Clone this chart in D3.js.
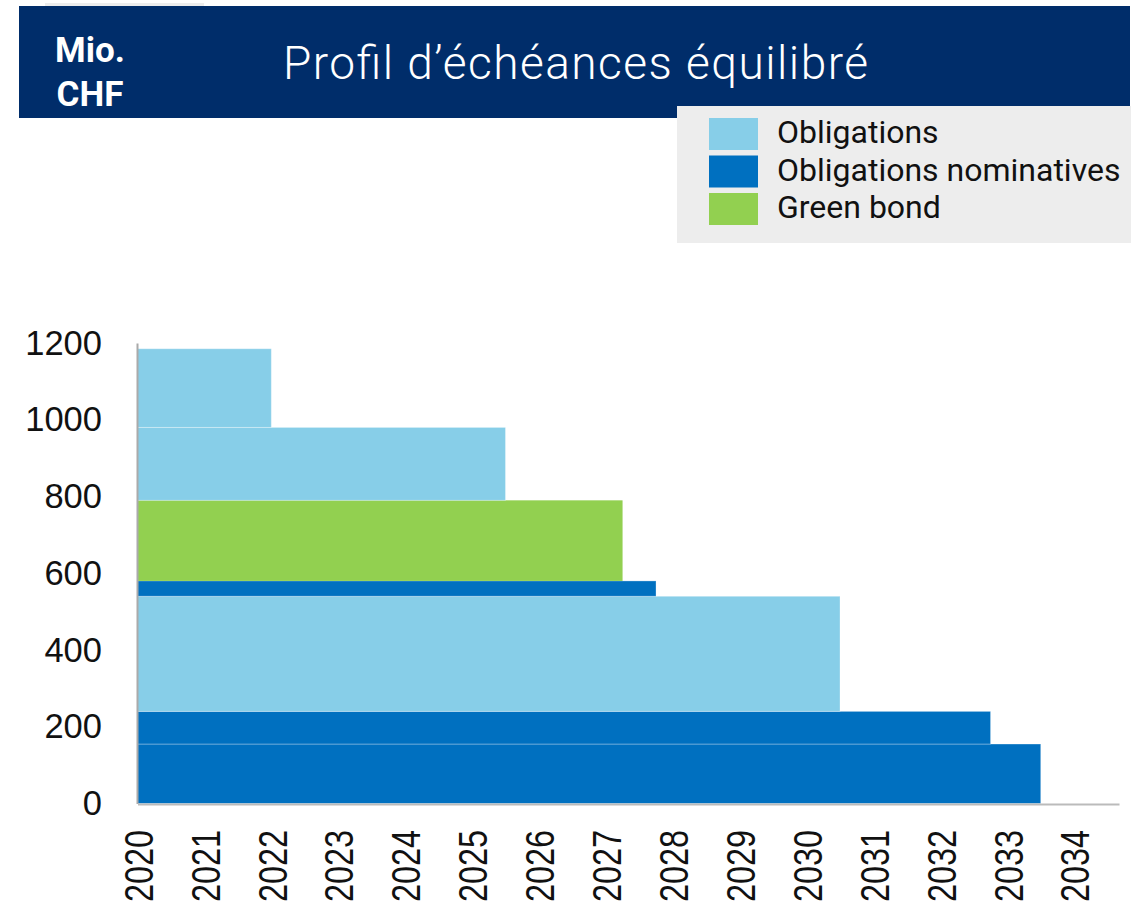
<!DOCTYPE html>
<html>
<head>
<meta charset="utf-8">
<script src="https://cdn.jsdelivr.net/npm/d3@7"></script>
<style>
  body { margin: 0; background: #fff; }
  svg { display: block; font-family: Roboto, "Noto Sans", sans-serif; }
</style>
</head>
<body>
<div id="chart"></div>
<script>
// Maturity profile: each row is one bond, running from 2020 to its maturity,
// stacked on top of each other by amount (Mio. CHF)
const rowType = ["nominative", "nominative", "obligation", "nominative", "green", "obligation", "obligation"];
const rowAmount = [155, 85, 300, 40, 210, 190, 205];
const rowMaturity = [2033.5, 2032.75, 2030.5, 2027.75, 2027.25, 2025.5, 2022];

const legendKeys = ["obligation", "nominative", "green"];
const legendLabels = ["Obligations", "Obligations nominatives", "Green bond"];
const legendColors = ["#87CEE8", "#0070C0", "#92D050"];

const yearTicks = d3.range(2020, 2035);
const yTicks = [0, 200, 400, 600, 800, 1000, 1200];

const width = 1145, height = 920;
const startYear = 2020, endYear = 2034.67;

const color = d3.scaleOrdinal().domain(legendKeys).range(legendColors);

const x = d3.scaleLinear()
  .domain([startYear, endYear])
  .range([137.5, 1119]);

const y = d3.scaleLinear()
  .domain([0, 1200])
  .range([803.5, 343]);

// stack the rows
let acc = 0;
const rows = rowAmount.map((v, i) => {
  const r = { type: rowType[i], low: acc, high: acc + v, end: rowMaturity[i] };
  acc += v;
  return r;
});

const svg = d3.select("#chart")
  .append("svg")
  .attr("width", width)
  .attr("height", height);

// header band
svg.append("rect")
  .attr("x", 45).attr("y", 3).attr("width", 159).attr("height", 3)
  .attr("fill", "#ededed");
svg.append("rect")
  .attr("x", 19).attr("y", 6).attr("width", 1111).attr("height", 112)
  .attr("fill", "#002D6A");

svg.append("text")
  .attr("x", 90).attr("y", 62)
  .attr("text-anchor", "middle")
  .attr("fill", "#fff")
  .attr("font-weight", 700)
  .attr("font-size", 35)
  .text("Mio.");
svg.append("text")
  .attr("x", 90).attr("y", 106)
  .attr("text-anchor", "middle")
  .attr("fill", "#fff")
  .attr("font-weight", 700)
  .attr("font-size", 35)
  .text("CHF");

svg.append("text")
  .attr("x", 283).attr("y", 79)
  .attr("fill", "#fff")
  .attr("font-weight", 300)
  .attr("font-size", 46)
  .attr("textLength", 585)
  .attr("lengthAdjust", "spacing")
  .text("Profil d\u2019échéances équilibré");

// legend
const legend = svg.append("g");
legend.append("rect")
  .attr("x", 677).attr("y", 106).attr("width", 454).attr("height", 137)
  .attr("fill", "#EDEDED");

const item = legend.selectAll("g.item")
  .data(legendKeys)
  .join("g")
  .attr("class", "item")
  .attr("transform", (d, i) => `translate(709, ${118 + i * 37.5})`);

item.append("rect")
  .attr("width", 49).attr("height", 32)
  .attr("fill", d => color(d));

item.append("text")
  .attr("x", 68).attr("y", 25)
  .attr("font-size", 32)
  .attr("fill", "#111")
  .text((d, i) => legendLabels[i]);

// bars
svg.append("g")
  .selectAll("rect")
  .data(rows)
  .join("rect")
  .attr("x", x(startYear))
  .attr("y", d => y(d.high))
  .attr("width", d => x(d.end) - x(startYear))
  .attr("height", d => y(d.low) - y(d.high))
  .attr("fill", d => color(d.type))
  .attr("stroke", d => d.type === "green" ? "none" : "rgba(255,255,255,0.3)")
  .attr("stroke-width", 1);

// y axis
const yAxis = svg.append("g")
  .attr("transform", `translate(${x(startYear) - 0.5},0)`)
  .call(d3.axisLeft(y).tickValues(yTicks).tickFormat(d3.format("d"))
    .tickSize(0).tickSizeOuter(0).tickPadding(35));
yAxis.select(".domain").attr("stroke", "#aaa").attr("stroke-width", 2);
yAxis.selectAll("text")
  .attr("font-size", 34.5)
  .attr("font-weight", 300)
  .attr("fill", "#111");

// x axis: labels read bottom-to-top, slightly condensed like the original
const squeeze = 0.79;
const xAxis = svg.append("g")
  .attr("transform", `translate(0,${y(0) + 0.5})`)
  .call(d3.axisBottom(x).tickValues(yearTicks).tickFormat(d3.format("d"))
    .tickSize(0).tickSizeOuter(0));
xAxis.select(".domain").attr("stroke", "#bbb").attr("stroke-width", 2);
xAxis.selectAll("text")
  .attr("transform", `rotate(-90) scale(${squeeze},1)`)
  .attr("x", -26 / squeeze)
  .attr("y", 0)
  .attr("dy", "0.36em")
  .style("text-anchor", "end")
  .attr("font-size", 41)
  .attr("font-weight", 300)
  .attr("fill", "#111");
</script>
</body>
</html>
